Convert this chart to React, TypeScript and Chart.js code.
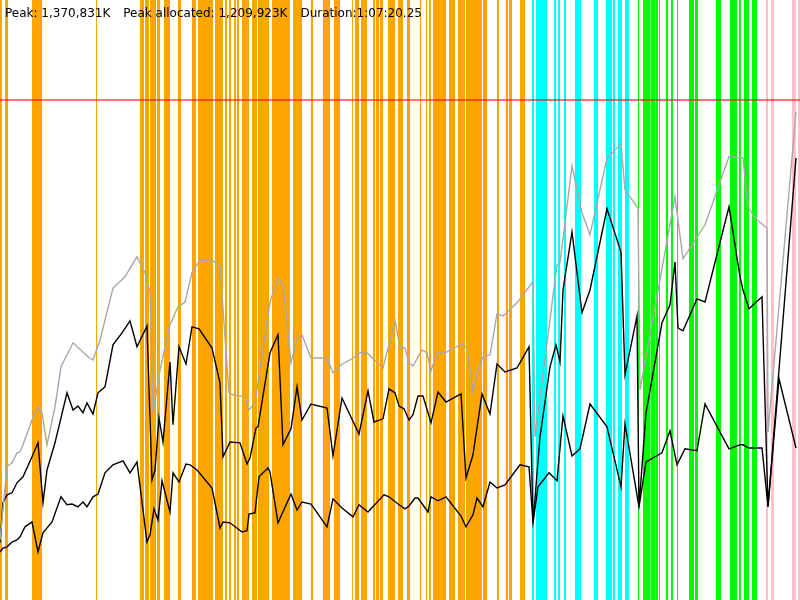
import React, { useEffect, useRef } from "react";
import { Chart, registerables } from "chart.js";

Chart.register(...registerables);

// Time axis in seconds, memory axis in MB
const TIME_MAX = 4000;
const MEM_MAX = 1500;
const MAX_HEAP_MB = 1250;

const headerLabels = ["Peak: 1,370,831K", "Peak allocated: 1,209,923K", "Duration:1:07:20.25"];

// Heap size (gray)
const heapSize: [number, number][] = [
  [0, 150], [35, 333], [60, 343], [85, 368], [100, 370], [115, 388], [160, 450], [190, 483],
  [210, 468], [235, 388], [275, 483], [305, 583], [365, 643], [440, 608], [465, 600], [500, 650],
  [565, 780], [625, 808], [685, 858], [725, 818], [750, 770], [765, 468], [800, 575], [850, 688],
  [890, 733], [925, 745], [960, 818], [1000, 850], [1065, 848], [1100, 833], [1145, 518], [1165, 513],
  [1225, 508], [1245, 475], [1275, 493], [1350, 745], [1390, 805], [1415, 788], [1455, 593], [1485, 653],
  [1510, 663], [1555, 605], [1635, 605], [1665, 568], [1710, 590], [1760, 603], [1800, 618], [1835, 618],
  [1915, 580], [1975, 698], [2000, 633], [2025, 630], [2045, 593], [2065, 585], [2110, 625], [2135, 618],
  [2155, 573], [2185, 618], [2225, 618], [2310, 640], [2335, 630], [2365, 520], [2385, 568], [2415, 608],
  [2450, 613], [2485, 715], [2515, 710], [2585, 743], [2660, 793], [2665, 788], [2675, 408], [2785, 838],
  [2800, 843], [2860, 1085], [2910, 968], [2950, 913], [3035, 1105], [3105, 1140], [3125, 1025], [3190, 980],
  [3200, 525], [3375, 1008], [3415, 853], [3525, 938], [3645, 1108], [3715, 1105], [3740, 983], [3775, 955],
  [3835, 930], [3840, 420], [3980, 1220],
];

// Allocated memory (upper black)
const allocated: [number, number][] = [
  [0, 143], [15, 243], [35, 263], [60, 268], [85, 293], [115, 308], [160, 358], [190, 393],
  [215, 243], [235, 325], [275, 393], [335, 518], [365, 475], [390, 485], [415, 468], [435, 493],
  [465, 465], [490, 518], [525, 533], [565, 638], [610, 668], [650, 698], [685, 633], [735, 685],
  [760, 300], [775, 325], [795, 455], [815, 395], [850, 595], [865, 438], [895, 633], [930, 590],
  [960, 683], [995, 678], [1060, 630], [1100, 543], [1115, 358], [1150, 395], [1200, 393], [1235, 340],
  [1250, 355], [1280, 430], [1290, 433], [1350, 618], [1390, 663], [1415, 388], [1455, 428], [1485, 533],
  [1510, 450], [1555, 490], [1635, 480], [1665, 360], [1710, 505], [1795, 415], [1840, 523], [1870, 445],
  [1915, 453], [1945, 528], [1975, 518], [1995, 485], [2020, 478], [2045, 450], [2065, 463], [2090, 510],
  [2115, 510], [2155, 443], [2190, 520], [2230, 495], [2305, 515], [2330, 305], [2365, 363], [2410, 515],
  [2450, 465], [2485, 590], [2525, 570], [2585, 580], [2645, 633], [2665, 193], [2700, 408], [2750, 583],
  [2780, 638], [2800, 595], [2815, 775], [2860, 920], [2910, 718], [2950, 775], [3035, 978], [3105, 870],
  [3125, 563], [3185, 710], [3195, 233], [3230, 468], [3310, 693], [3350, 738], [3375, 845], [3390, 680],
  [3415, 673], [3485, 753], [3525, 745], [3645, 983], [3700, 808], [3715, 775], [3745, 728], [3810, 758],
  [3840, 233], [3980, 1105],
];

// Live memory after GC (lower black)
const liveMemory: [number, number][] = [
  [0, 120], [15, 130], [35, 133], [60, 145], [85, 150], [100, 158], [125, 183], [160, 195],
  [190, 120], [215, 168], [260, 195], [305, 258], [335, 238], [360, 240], [390, 233], [415, 245],
  [435, 233], [465, 258], [490, 265], [525, 318], [565, 338], [615, 348], [650, 318], [685, 345],
  [735, 145], [750, 163], [770, 228], [790, 200], [810, 298], [850, 220], [865, 318], [895, 295],
  [930, 340], [950, 338], [985, 325], [1060, 280], [1100, 180], [1115, 195], [1150, 193], [1210, 170],
  [1235, 173], [1245, 215], [1275, 218], [1295, 308], [1340, 330], [1350, 320], [1390, 193], [1455, 265],
  [1485, 225], [1510, 245], [1555, 240], [1635, 183], [1665, 253], [1710, 230], [1765, 208], [1795, 238],
  [1840, 220], [1920, 263], [1945, 258], [1990, 240], [2025, 228], [2045, 235], [2075, 255], [2090, 255],
  [2140, 220], [2155, 258], [2190, 248], [2230, 258], [2305, 210], [2330, 183], [2365, 213], [2385, 255],
  [2415, 233], [2450, 295], [2485, 280], [2525, 288], [2600, 338], [2645, 333], [2665, 193], [2690, 283],
  [2745, 318], [2785, 298], [2815, 460], [2860, 360], [2900, 378], [2950, 490], [3035, 433], [3105, 283],
  [3125, 440], [3195, 233], [3230, 345], [3310, 368], [3350, 423], [3385, 338], [3425, 378], [3485, 373],
  [3525, 490], [3645, 378], [3700, 388], [3715, 388], [3745, 380], [3810, 380], [3840, 233], [3895, 553],
  [3980, 380],
];

// GC event intervals [start, end] in seconds, by phase
const gcOrange: [number, number][] = [
  [0, 10], [25, 40], [160, 210], [480, 485], [700, 720], [725, 745], [750, 780], [785, 800],
  [820, 850], [890, 905], [960, 980], [990, 1065], [1075, 1115], [1125, 1135], [1145, 1155], [1170, 1180],
  [1185, 1195], [1210, 1245], [1260, 1285], [1290, 1345], [1360, 1450], [1465, 1510], [1555, 1565], [1615, 1650],
  [1670, 1700], [1760, 1765], [1775, 1795], [1805, 1835], [1865, 1875], [1880, 1895], [1900, 1915], [1940, 1975],
  [1990, 2015], [2035, 2050], [2100, 2105], [2130, 2135], [2145, 2155], [2165, 2230], [2245, 2275], [2290, 2325],
  [2330, 2410], [2415, 2435], [2485, 2495], [2530, 2540], [2545, 2560], [2600, 2625],
];
const gcCyan: [number, number][] = [
  [2660, 2670], [2680, 2735], [2770, 2780], [2790, 2800], [2820, 2830], [2875, 2905], [2970, 2990],
  [3030, 3060], [3065, 3075], [3090, 3110], [3125, 3145],
];
const gcGreen: [number, number][] = [
  [3190, 3195], [3215, 3250], [3252, 3275], [3277, 3290], [3295, 3300], [3330, 3340], [3355, 3365],
  [3385, 3390], [3445, 3470], [3475, 3490], [3580, 3605], [3650, 3685], [3695, 3705], [3720, 3745], [3760, 3785],
];
const gcPink: [number, number][] = [
  [3830, 3840], [3855, 3870], [3960, 3980], [3990, 4000],
];

const gcGroups = [
  { color: "#ffa500", ranges: gcOrange },
  { color: "#00ffff", ranges: gcCyan },
  { color: "#00ff00", ranges: gcGreen },
  { color: "#ffc0cb", ranges: gcPink },
];

const toXY = (arr: [number, number][]) => arr.map(([x, y]) => ({ x, y }));

const gcPlugin = {
  id: "gcEvents",
  beforeDatasetsDraw(chart: any) {
    const { ctx, chartArea, scales } = chart;
    const xs = scales.x;
    ctx.save();
    for (const g of gcGroups) {
      ctx.fillStyle = g.color;
      for (const [a, b] of g.ranges) {
        const x0 = xs.getPixelForValue(a);
        const x1 = xs.getPixelForValue(b);
        ctx.fillRect(x0, chartArea.top, Math.max(1, x1 - x0), chartArea.bottom - chartArea.top);
      }
    }
    ctx.restore();
  },
};

const headerPlugin = {
  id: "header",
  afterDraw(chart: any) {
    const { ctx } = chart;
    ctx.save();
    ctx.font = '12px "DejaVu Sans"';
    ctx.fillStyle = "#000";
    ctx.textBaseline = "alphabetic";
    let x = 5;
    for (const t of headerLabels) {
      ctx.fillText(t, x, 17);
      x += ctx.measureText(t).width + 13;
    }
    ctx.restore();
  },
};

export default function App() {
  const ref = useRef<HTMLCanvasElement | null>(null);
  useEffect(() => {
    document.body.style.margin = "0";
    if (!ref.current) return;
    const chart = new Chart(ref.current, {
      type: "line",
      data: {
        datasets: [
          {
            label: "Max heap",
            data: [{ x: 0, y: MAX_HEAP_MB }, { x: TIME_MAX, y: MAX_HEAP_MB }],
            borderColor: "rgba(255,0,0,0.55)",
            borderWidth: 2,
            pointRadius: 0,
          },
          {
            label: "Heap size",
            data: toXY(heapSize),
            borderColor: "#a8a8a8",
            borderWidth: 1.4,
            pointRadius: 0,
          },
          {
            label: "Allocated",
            data: toXY(allocated),
            borderColor: "#000000",
            borderWidth: 1.4,
            pointRadius: 0,
          },
          {
            label: "Live",
            data: toXY(liveMemory),
            borderColor: "#000000",
            borderWidth: 1.4,
            pointRadius: 0,
          },
        ],
      },
      options: {
        animation: false,
        responsive: false,
        devicePixelRatio: 1,
        layout: { padding: 0 },
        elements: { line: { tension: 0 } },
        plugins: { legend: { display: false }, tooltip: { enabled: false }, title: { display: false } },
        scales: {
          x: { type: "linear", min: 0, max: TIME_MAX, display: false },
          y: { type: "linear", min: 0, max: MEM_MAX, display: false },
        },
      },
      plugins: [gcPlugin, headerPlugin],
    });
    return () => chart.destroy();
  }, []);
  return (
    <div style={{ width: 800, height: 600, background: "#fff" }}>
      <canvas ref={ref} width={800} height={600} style={{ display: "block" }} />
    </div>
  );
}
